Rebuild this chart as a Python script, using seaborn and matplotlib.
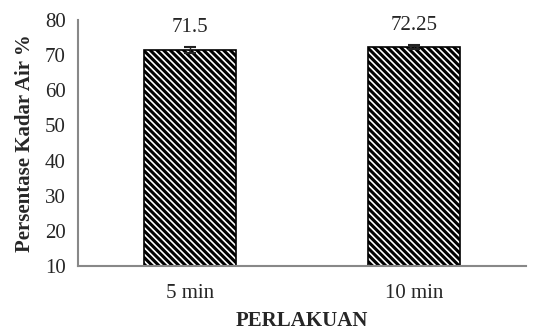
import matplotlib
matplotlib.use("Agg")
import matplotlib.pyplot as plt
import seaborn as sns
import pandas as pd

categories = ["5 min", "10 min"]
values = [71.5, 72.25]
errors = [0.9, 0.6]
yticks = [10, 20, 30, 40, 50, 60, 70, 80]

sns.set_style("white")
plt.rcParams['font.family'] = ['Liberation Serif', 'DejaVu Serif']
plt.rcParams['hatch.linewidth'] = 2.2

df = pd.DataFrame({"cat": categories, "val": values})

fig = plt.figure(figsize=(5.45, 3.32), dpi=100)
ax = fig.add_axes([78/545, 1-266/332, 448/545, 246/332])
sns.barplot(data=df, x="cat", y="val", ax=ax, color="white", width=0.41,
            edgecolor="black", linewidth=1.2, hatch="\\" * 5, errorbar=None)
ax.errorbar(range(len(categories)), values, yerr=errors, fmt="none",
            ecolor="#222222", elinewidth=1, capsize=4.5, capthick=1.5)
for i, v in enumerate(values):
    ax.text(i, v + 3.6, f"{v:g}", ha="center", va="bottom", fontsize=15)

ax.set_ylim(10, 80)
ax.set_yticks(yticks)
ax.set_xlim(-0.5, 1.5)
ax.set_xticks([-0.5, 0.5, 1.5], minor=False)
ax.set_xticklabels(["", "", ""])
ax.set_xticks([0, 1], minor=True)
ax.set_xticklabels(categories, minor=True)
ax.tick_params(axis="x", which="major", length=5, color="#888888", direction="out")
ax.tick_params(axis="x", which="minor", length=0, labelsize=15, pad=13)
ax.tick_params(axis="y", length=5, color="#888888", direction="out", labelsize=15, pad=4)
for s in ["top", "right"]:
    ax.spines[s].set_visible(False)
for s in ["left", "bottom"]:
    ax.spines[s].set_color("#888888")
    ax.spines[s].set_linewidth(1.5)
ax.set_xlabel("PERLAKUAN", fontsize=15, fontweight="bold", labelpad=6)
ax.set_ylabel("Persentase Kadar Air %", fontsize=15, fontweight="bold", labelpad=7)

fig.savefig("out.png", dpi=100)
